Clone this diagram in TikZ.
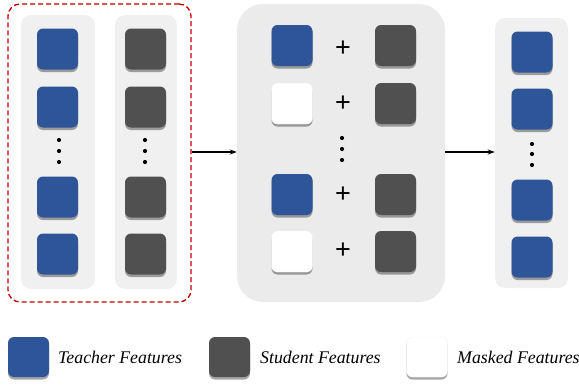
\documentclass[tikz,border=0pt]{standalone}
\usepackage{fontspec}
\setmainfont{Liberation Serif}
\newfontfamily\plusfont{Liberation Sans}
\usetikzlibrary{shadows,arrows.meta}
\definecolor{tblue}{HTML}{2E5597}
\definecolor{sgray}{HTML}{505050}
\definecolor{panel}{HTML}{F0F0F0}
\definecolor{panelmid}{HTML}{EBEBEB}
\definecolor{dred}{HTML}{C00000}
\begin{document}
\begin{tikzpicture}[x=1pt,y=-1pt,
  sq/.style={minimum width=41pt,minimum height=41pt,inner sep=0pt,rounded corners=6pt,
    drop shadow={shadow xshift=0pt,shadow yshift=-2.5pt,opacity=0.35,fill=black}},
  tsq/.style={sq,fill=tblue},
  ssq/.style={sq,fill=sgray},
  msq/.style={sq,fill=white,draw=black!6},
  lsq/.style={sq,minimum width=41pt,minimum height=40pt},
  colpanel/.style={fill=panel,rounded corners=10pt,inner sep=0pt},
  vdot/.style={circle,fill=black,inner sep=0pt,minimum size=4.2pt},
  plus/.style={font=\plusfont\fontsize{27}{28}\selectfont,inner sep=0pt},
  leg/.style={font=\fontsize{17.8}{20}\selectfont\itshape,anchor=west,inner sep=0pt},
  arr/.style={-{Stealth[length=7pt,width=5pt]},line width=1.3pt}]
\useasboundingbox (0,0) rectangle (579,386);
% left group
\node[draw=dred,dashed,line width=1.3pt,dash pattern=on 5pt off 3pt,rounded corners=12pt,minimum width=183pt,minimum height=298pt] (grp) at (99.5,153) {};
\node[colpanel,minimum width=74pt,minimum height=274pt] (c1) at (58,152) {};
\node[colpanel,minimum width=62pt,minimum height=274pt] (c2) at (146,152) {};
\node[tsq] (t1) at (57.5,49) {};
\node[tsq] (t2) at (57.5,107) {};
\node[tsq] (t3) at (57.5,197) {};
\node[tsq] (t4) at (57.5,254) {};
\node[vdot] (td1) at (59,140) {};
\node[vdot] (td2) at (59,151) {};
\node[vdot] (td3) at (59,162) {};
\node[ssq] (s1) at (145.5,49) {};
\node[ssq] (s2) at (145.5,107) {};
\node[ssq] (s3) at (145.5,197) {};
\node[ssq] (s4) at (145.5,254) {};
\node[vdot] (sd1) at (145,140) {};
\node[vdot] (sd2) at (145,151) {};
\node[vdot] (sd3) at (145,162) {};
% middle
\node[fill=panelmid,rounded corners=26pt,minimum width=208pt,minimum height=298pt,inner sep=0pt] (mid) at (341,153) {};
\node[tsq] (m1) at (292,45.5) {};
\node[msq] (m2) at (292,103.5) {};
\node[tsq] (m3) at (292,194.5) {};
\node[msq] (m4) at (292,251.5) {};
\node[ssq] (n1) at (395.5,45.5) {};
\node[ssq] (n2) at (395.5,103.5) {};
\node[ssq] (n3) at (395.5,194.5) {};
\node[ssq] (n4) at (395.5,251.5) {};
\node[plus] (p1) at (343,49) {+};
\node[plus] (p2) at (343,104) {+};
\node[plus] (p3) at (343,195) {+};
\node[plus] (p4) at (343,251) {+};
\node[vdot] (md1) at (342,138) {};
\node[vdot] (md2) at (342,149) {};
\node[vdot] (md3) at (342,160) {};
% right
\node[colpanel,minimum width=73pt,minimum height=270pt] (rc) at (531.5,153) {};
\node[tsq] (r1) at (532,52) {};
\node[tsq] (r2) at (532,109) {};
\node[tsq] (r3) at (532,200) {};
\node[tsq] (r4) at (532,257) {};
\node[vdot] (rd1) at (532,144) {};
\node[vdot] (rd2) at (532,154) {};
\node[vdot] (rd3) at (532,165) {};
% arrows
\draw[arr] (grp.east |- 0,152) -- (mid.west |- 0,152);
\draw[arr] (mid.east |- 0,152) -- (rc.west |- 0,152);
% legend
\node[lsq,fill=tblue] (l1) at (28.5,357) {};
\node[leg] (lt1) at (58,357) {Teacher Features};
\node[lsq,fill=sgray] (l2) at (229.5,357) {};
\node[leg] (lt2) at (260,357) {Student Features};
\node[lsq,fill=white,draw=black!6] (l3) at (427,357) {};
\node[leg] (lt3) at (457,357) {Masked Features};
\end{tikzpicture}
\end{document}
